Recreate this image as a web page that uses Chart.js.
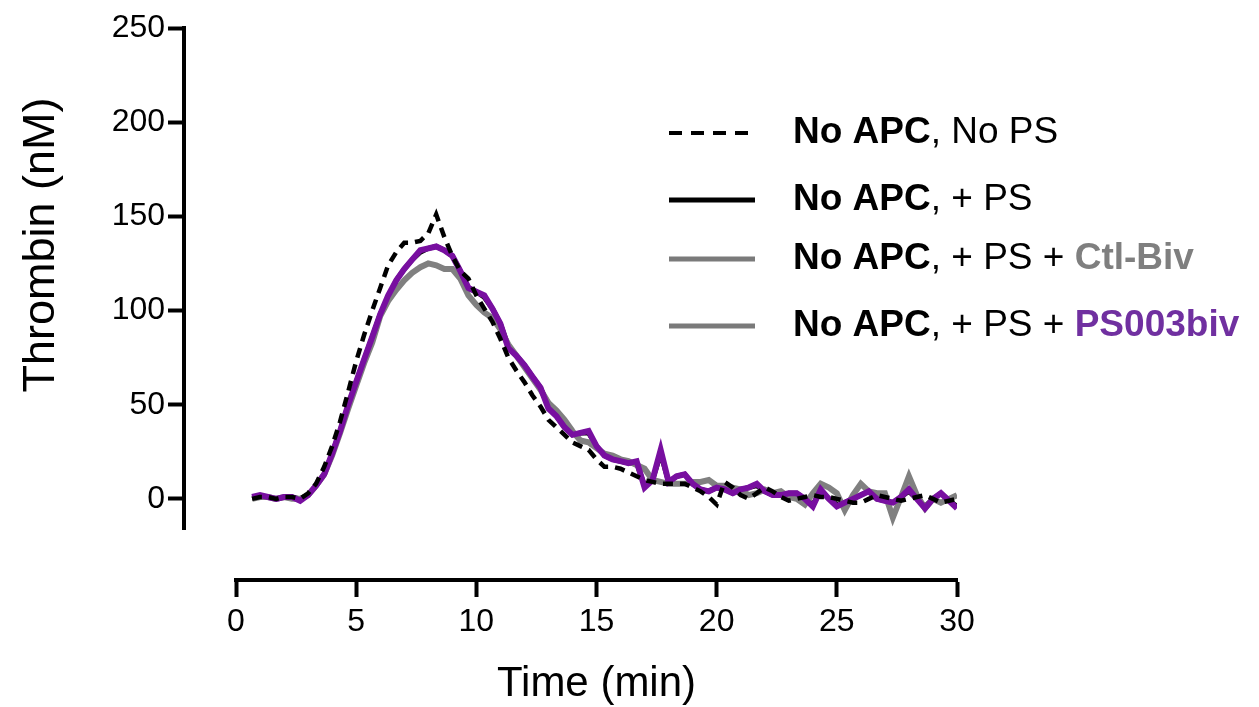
<!DOCTYPE html>
<html><head><meta charset="utf-8">
<script src="https://cdn.jsdelivr.net/npm/chart.js@4/dist/chart.umd.min.js"></script>
<style>html,body{margin:0;padding:0;background:#fff;overflow:hidden}canvas{display:block}</style>
</head><body>
<canvas id="c" width="1259" height="707"></canvas>
<script>
// ---- data (time in min, thrombin in nM) ----
const timeMin = [0.67,1.00,1.33,1.67,2.00,2.33,2.67,3.00,3.33,3.67,
 4.00,4.33,4.67,5.00,5.33,5.67,6.00,6.33,6.67,7.00,
 7.33,7.67,8.00,8.33,8.67,9.00,9.33,9.67,10.00,10.33,
 10.67,11.00,11.33,11.67,12.00,12.33,12.67,13.00,13.33,13.67,
 14.00,14.33,14.67,15.00,15.33,15.67,16.00,16.33,16.67,17.00,
 17.33,17.67,18.00,18.33,18.67,19.00,19.33,19.67,20.00,20.33,
 20.67,21.00,21.33,21.67,22.00,22.33,22.67,23.00,23.33,23.67,
 24.00,24.33,24.67,25.00,25.33,25.67,26.00,26.33,26.67,27.00,
 27.33,27.67,28.00,28.33,28.67,29.00,29.33,29.67,30.00];

const noApcNoPs = [0,1,1,0,1,1,0,3,8,17,
 28,41,57,73,87,100,112,124,131,136,
 136,137,141,151,139,129,121,117,108,101,
 94,85,75,68,62,55,49,42,38,34,
 30,28,26,21,17,17,16,14,12,10,
 9,8,8,8,8,6,4,1,-3,9,
 6,2,0,3,6,4,1,-1,0,1,
 2,1,1,0,-1,-2,-2,0,2,1,
 0,-1,0,1,2,0,-2,-1,0];

const noApcPs = [1,1,1,0,1,1,0,2,7,13,
 24,36,50,62,74,86,98,107,116,122,
 127,131,133,134,132,129,121,112,110,107,
 101,93,81,76,71,65,59,49,44,38,
 34,35,35,28,23,21,20,19,19,7,
 10,24,9,12,13,8,5,4,6,5,
 3,5,6,7,4,2,2,3,3,0,
 -3,4,0,-3,-2,0,2,4,0,-1,
 -2,1,4,0,-4,0,3,-1,-4];

const ctlBiv = [0,1,1,0,1,0,0,2,7,13,
 23,35,48,60,72,83,97,105,111,116,
 120,123,125,124,122,122,117,108,103,99,
 96,90,82,76,70,64,58,51,47,42,
 36,31,30,27,24,23,21,20,18,16,
 10,9,8,8,8,9,9,10,7,7,
 6,5,2,3,5,3,4,1,0,-3,
 3,8,6,3,-6,2,8,4,3,3,
 -10,1,12,2,-5,0,-2,0,2];

const ps003biv = [1,2,1,0,1,1,-1,2,7,13,
 24,36,50,62,74,86,98,108,116,122,
 127,132,133,134,132,129,121,112,110,108,
 101,93,80,76,71,65,59,48,44,38,
 34,35,36,28,23,21,20,19,20,6,
 10,26,9,12,13,8,5,4,6,5,
 3,5,6,8,4,2,2,3,3,0,
 -4,5,0,-4,-2,0,2,4,0,-1,
 -2,1,5,0,-5,0,3,-1,-5];

const xTicks = [0,5,10,15,20,25,30];
const yTicks = [0,50,100,150,200,250];
const xTitle = 'Time (min)';
const yTitle = 'Thrombin (nM)';

const FONT = '"Liberation Sans", Arial, Helvetica, sans-serif';
const PURPLE = '#780fa0';
const GRAY = '#808080';

function pts(ys){ return timeMin.map((t,i)=>({x:t, y:ys[i]})); }

const legendRows = [
  {dash:[13,9], color:'#000', parts:[['No APC','bold','#000'],[', No PS','normal','#000']]},
  {dash:[], color:'#000', parts:[['No APC','bold','#000'],[', + PS','normal','#000']]},
  {dash:[], color:'#7a7a7a', parts:[['No APC','bold','#000'],[', + PS + ','normal','#000'],['Ctl-Biv','bold','#7f7f7f']]},
  {dash:[], color:'#7a7a7a', parts:[['No APC','bold','#000'],[', + PS + ','normal','#000'],['PS003biv','bold','#7030a0']]}
];
const legendY = [133, 200, 259, 326];

const decor = {
  id:'decor',
  afterDraw(chart){
    const ctx = chart.ctx;
    ctx.save();
    ctx.fillStyle = '#000';
    ctx.textAlign = 'center';
    ctx.textBaseline = 'middle';
    const xs = chart.scales.x;
    ctx.font = '42px ' + FONT;
    ctx.fillText(xTitle, (xs.getPixelForValue(0)+xs.getPixelForValue(30))/2, 684);
    ctx.save();
    ctx.translate(42, 245);
    ctx.rotate(-Math.PI/2);
    ctx.font = '45px ' + FONT;
    ctx.fillText(yTitle, 0, 0);
    ctx.restore();
    // legend
    legendRows.forEach((row, i) => {
      const y = legendY[i];
      ctx.beginPath();
      ctx.setLineDash(row.dash);
      ctx.lineWidth = i === 0 ? 4 : 5;
      ctx.strokeStyle = row.color;
      ctx.moveTo(669, y); ctx.lineTo(755, y);
      ctx.stroke();
      ctx.setLineDash([]);
      let x = 793;
      ctx.textAlign = 'left';
      ctx.textBaseline = 'middle';
      row.parts.forEach(([txt, w, col]) => {
        ctx.font = (w === 'bold' ? 'bold ' : '') + '37px ' + FONT;
        ctx.fillStyle = col;
        ctx.fillText(txt, x, y);
        x += ctx.measureText(txt).width;
      });
    });
    ctx.restore();
  }
};

const setTicks = list => s => { s.ticks = list.map(v => ({value:v})); };

new Chart(document.getElementById('c'), {
  type: 'line',
  data: {
    datasets: [
      {label:'No APC, No PS', data: pts(noApcNoPs), borderColor:'#000', borderWidth:4.5, borderDash:[10,7], order:0},
      {label:'No APC, + PS + PS003biv', data: pts(ps003biv), borderColor:PURPLE, borderWidth:6, order:1},
      {label:'No APC, + PS + Ctl-Biv', data: pts(ctlBiv), borderColor:GRAY, borderWidth:6, order:2},
      {label:'No APC, + PS', data: pts(noApcPs), borderColor:'#000', borderWidth:5, order:3}
    ]
  },
  options: {
    responsive:false, animation:false, events:[],
    layout:{padding:{left:236, right:302, top:28, bottom:178}},
    elements:{point:{radius:0}, line:{tension:0, fill:false}},
    plugins:{legend:{display:false}, tooltip:{enabled:false}},
    scales:{
      x:{
        type:'linear', position:{y:-43}, min:0, max:30,
        afterBuildTicks: setTicks(xTicks),
        grid:{drawOnChartArea:false, drawTicks:true, tickLength:15, tickWidth:4, tickColor:'#000'},
        border:{display:true, color:'#000', width:4},
        ticks:{color:'#000', font:{size:32, family:FONT}, padding:8, maxRotation:0, autoSkip:false}
      },
      y:{
        type:'linear', position:{x:-2.16}, min:-16, max:250,
        afterBuildTicks: setTicks(yTicks),
        grid:{drawOnChartArea:false, drawTicks:true, tickLength:14, tickWidth:4, tickColor:'#000'},
        border:{display:true, color:'#000', width:4},
        ticks:{display:false}
      },
      yLabels:{
        type:'linear', position:{x:-2.95}, min:-16, max:250,
        afterBuildTicks: setTicks(yTicks),
        grid:{display:false, drawTicks:false},
        border:{display:false},
        ticks:{color:'#000', font:{size:32, family:FONT}, autoSkip:false}
      }
    }
  },
  plugins:[decor]
});
</script>
</body></html>
